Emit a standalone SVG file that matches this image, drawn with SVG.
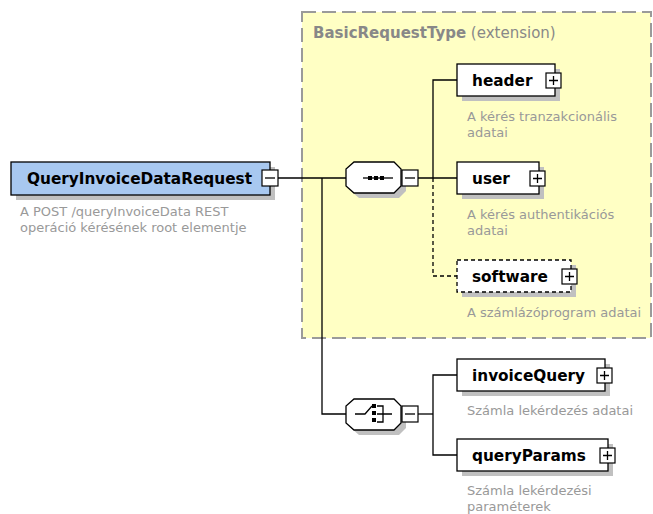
<svg xmlns="http://www.w3.org/2000/svg" width="653" height="514" viewBox="0 0 653 514">
<style>
.box{stroke:#000;stroke-width:1.3}
.el{fill:#fff}
.root{fill:#a8c8f0}
.opt{fill:#fff;stroke-dasharray:4 3}
.sh{fill:#c0c0c0}
.lbl{font-family:"DejaVu Sans",sans-serif;font-weight:bold;font-size:15.3px;fill:#000}
.desc{font-family:"DejaVu Sans",sans-serif;font-size:13px;fill:#999}
.pm{fill:#fff;stroke:#000;stroke-width:1.2}
.ln{stroke:#000;stroke-width:1.3;fill:none}
.dash{stroke-dasharray:4 3}
</style>
<defs>
<g id="plus"><rect class="pm" x="0" y="0" width="15" height="15"/><path class="ln" d="M3 7.5H12M7.5 3V12"/></g>
<g id="minus"><rect class="pm" x="0" y="0" width="16" height="16"/><path class="ln" d="M3 8H13"/></g>
</defs>

<g id="extension">
<rect x="302" y="12" width="349" height="326" fill="#ffffc4" stroke="#9a9a9a" stroke-width="2" stroke-dasharray="14 6"/>
<text x="313" y="38" font-family="DejaVu Sans,sans-serif" font-size="15px" fill="#888"><tspan font-weight="bold">BasicRequestType</tspan> (extension)</text>
</g>

<g id="connectors">
<path class="ln" d="M278 178H346"/>
<path class="ln" d="M322 178V414H346"/>
<path class="ln" d="M418 178H457"/>
<path class="ln" d="M433 178V80H457"/>
<path class="ln dash" d="M433 178V276H457"/>
<path class="ln" d="M418 414H433"/>
<path class="ln" d="M457 375H433V455H457"/>
</g>

<g id="QueryInvoiceDataRequest">
<rect class="sh" x="16" y="167" width="259" height="33"/>
<rect class="box root" x="11" y="162" width="259" height="33"/>
<text class="lbl" x="27" y="184">QueryInvoiceDataRequest</text>
<use href="#minus" x="262" y="170"/>
<text class="desc" x="20" y="216">A POST /queryInvoiceData REST</text>
<text class="desc" x="20" y="232">operáció kérésének root elementje</text>
</g>

<g id="sequence">
<path class="sh" d="M359 167H399L406 174V191L399 198H359L351 191V174Z"/>
<path class="box el" d="M354 162H394L401 169V186L394 193H354L346 186V169Z"/>
<path class="ln" d="M363 178H393"/>
<rect x="368" y="176" width="4" height="4" fill="#000"/>
<rect x="374" y="176" width="4" height="4" fill="#000"/>
<rect x="380" y="176" width="4" height="4" fill="#000"/>
<use href="#minus" x="402" y="170"/>
</g>

<g id="choice">
<path class="sh" d="M359 404H399L406 411V428L399 435H359L351 428V411Z"/>
<path class="box el" d="M354 399H394L401 406V423L394 430H354L346 423V406Z"/>
<path class="ln" d="M355 414H365L372 406"/>
<rect x="372" y="404" width="4" height="4" fill="#000"/>
<rect x="372" y="411" width="4" height="4" fill="#000"/>
<rect x="372" y="418" width="4" height="4" fill="#000"/>
<path class="ln" d="M377 406H383V422H377M377 414H392"/>
<use href="#minus" x="402" y="406"/>
</g>

<g id="header">
<rect class="sh" x="462" y="69" width="98" height="32"/>
<rect class="box el" x="457" y="64" width="98" height="32"/>
<text class="lbl" x="472" y="86">header</text>
<use href="#plus" x="546" y="73"/>
<text class="desc" x="467" y="121">A kérés tranzakcionális</text>
<text class="desc" x="467" y="137">adatai</text>
</g>

<g id="user">
<rect class="sh" x="462" y="167" width="82" height="32"/>
<rect class="box el" x="457" y="162" width="82" height="32"/>
<text class="lbl" x="472" y="184">user</text>
<use href="#plus" x="530" y="171"/>
<text class="desc" x="467" y="219">A kérés authentikációs</text>
<text class="desc" x="467" y="235">adatai</text>
</g>

<g id="software">
<rect class="sh" x="462" y="265" width="114" height="32"/>
<rect class="box opt" x="457" y="260" width="114" height="32"/>
<text class="lbl" x="472" y="282">software</text>
<use href="#plus" x="562" y="269"/>
<text class="desc" x="467" y="317">A számlázóprogram adatai</text>
</g>

<g id="invoiceQuery">
<rect class="sh" x="462" y="364" width="148" height="32"/>
<rect class="box el" x="457" y="359" width="148" height="32"/>
<text class="lbl" x="472" y="381">invoiceQuery</text>
<use href="#plus" x="597" y="368"/>
<text class="desc" x="467" y="415">Számla lekérdezés adatai</text>
</g>

<g id="queryParams">
<rect class="sh" x="462" y="444" width="151" height="32"/>
<rect class="box el" x="457" y="439" width="151" height="32"/>
<text class="lbl" x="472" y="461">queryParams</text>
<use href="#plus" x="600" y="448"/>
<text class="desc" x="467" y="495">Számla lekérdezési</text>
<text class="desc" x="467" y="511">paraméterek</text>
</g>
</svg>
